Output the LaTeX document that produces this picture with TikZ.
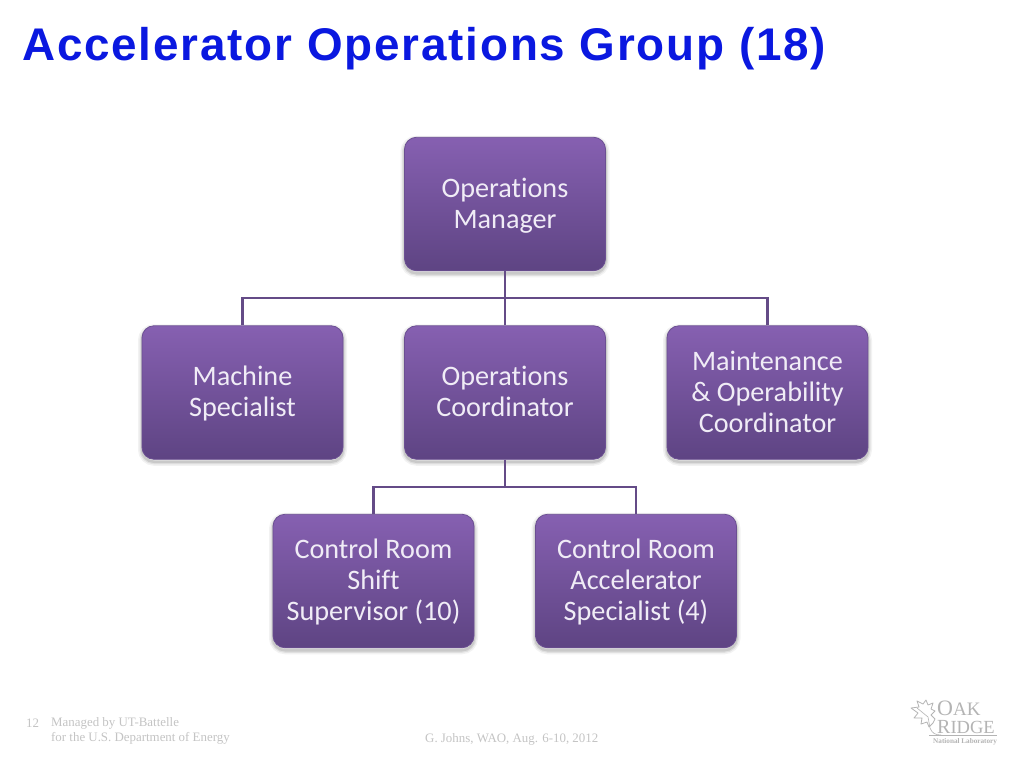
\documentclass[tikz,border=0pt]{standalone}
\usepackage{fontspec}
\setmainfont[Ligatures=CommonOff]{Carlito}
\newfontfamily\titlefont[LetterSpace=4]{Liberation Sans}
\newfontfamily\footfont{Liberation Serif}
\newcommand\fstline{\rule{0pt}{26.8pt}}
\definecolor{boxtop}{HTML}{8660B1}
\definecolor{boxbot}{HTML}{5E4483}
\definecolor{boxedge}{HTML}{6B4F92}
\definecolor{linkcol}{HTML}{644B87}
\definecolor{titleblue}{HTML}{0A18E0}
\definecolor{footgray}{HTML}{C4C4C4}
\definecolor{logogray}{HTML}{B4B4B4}
\tikzset{
  orgbox/.style={draw=boxedge,line width=0.8pt,rounded corners=12pt,minimum width=201pt,minimum height=133.5pt,
    preaction={draw=black,draw opacity=0.05,line width=8pt,transform canvas={yshift=-2.5pt}},
    preaction={draw=black,draw opacity=0.07,line width=5pt,transform canvas={yshift=-2.5pt}},
    preaction={draw=black,draw opacity=0.10,line width=2.5pt,transform canvas={yshift=-2.5pt}},
    top color=boxtop,bottom color=boxbot,text=white!88!boxtop,align=center,inner sep=0pt,
    font=\fontsize{28.2}{31.2}\selectfont},
  link/.style={draw=linkcol,line width=2.6pt},
  foot/.style={text=footgray,anchor=west,inner sep=0pt,font=\footfont\fontsize{12.9}{14}\selectfont,align=left}
}
\begin{document}
\begin{tikzpicture}[x=1pt,y=-1pt]
\useasboundingbox (0,0) rectangle (1024,768);
\fill[white] (0,0) rectangle (1024,768);
\coordinate (bustop) at (505,298);
\coordinate (buslow) at (505,487);
\node[anchor=west,inner sep=0pt,text=titleblue,font=\titlefont\bfseries\fontsize{45.8}{50}\selectfont] (title) at (22,48.5) {Accelerator Operations Group (18)};
\node[orgbox] (om) at (505,204) {\fstline Operations\\\strut Manager};
\node[orgbox] (ms) at (242.5,392.5) {\fstline Machine\\\strut Specialist};
\node[orgbox] (oc) at (505,392.5) {\fstline Operations\\\strut Coordinator};
\node[orgbox] (mo) at (767.5,392.5) {\fstline Maintenance\\\strut\&{} Operability\\\strut Coordinator};
\node[orgbox] (ss) at (373.5,581) {\fstline Control Room\\\strut Shift\\\strut Supervisor (10)};
\node[orgbox] (as) at (636,581) {\fstline Control Room\\\strut Accelerator\\\strut Specialist (4)};
\draw[link] (om.south) -- (oc.north);
\draw[link] (bustop) -| (ms.north);
\draw[link] (bustop) -| (mo.north);
\draw[link] (oc.south) -- (buslow);
\draw[link] (buslow) -| (ss.north);
\draw[link] (buslow) -| (as.north);
\node[foot] (pg) at (26,723.5) {12};
\node[foot] (m1) at (51,723.5) {Managed by UT-Battelle};
\node[foot] (m2) at (51,738) {for the U.S. Department of Energy};
\node[foot] (gj) at (425,739) {G. Johns, WAO, Aug. 6-10, 2012};
% logo
\node[anchor=base west,inner sep=0pt,text=logogray,font=\footfont\fontsize{22}{22}\selectfont] (oak) at (937,715) {O\fontsize{19}{19}\selectfont AK};
\node[anchor=base west,inner sep=0pt,text=logogray,font=\footfont\fontsize{20}{20}\selectfont] (ridge) at (937,733.5) {R\fontsize{18.5}{18.5}\selectfont IDGE};
\node[anchor=base west,inner sep=0pt,text=logogray,font=\footfont\bfseries\fontsize{7.2}{7}\selectfont] (nl) at (933,743) {National Laboratory};
\draw[logogray,line width=0.7pt] (929,735) -- (997,735);
\draw[logogray,line width=0.8pt,line join=round,fill=white]
  (933,723) -- (929,727) -- (927,722) -- (921,724) -- (922,718) -- (914,718) -- (918,713) -- (911,708)
  -- (919,707) -- (917,701) -- (923,704) -- (926,700) -- (928,705) -- (933,703) -- (931,709) -- (935,711)
  -- (931,715) -- (935,719) -- cycle;
\draw[logogray,line width=0.6pt] (917,708) -- (928,717) -- (930,728) .. controls (932,733) and (935,735) .. (941,735);
\end{tikzpicture}
\end{document}
